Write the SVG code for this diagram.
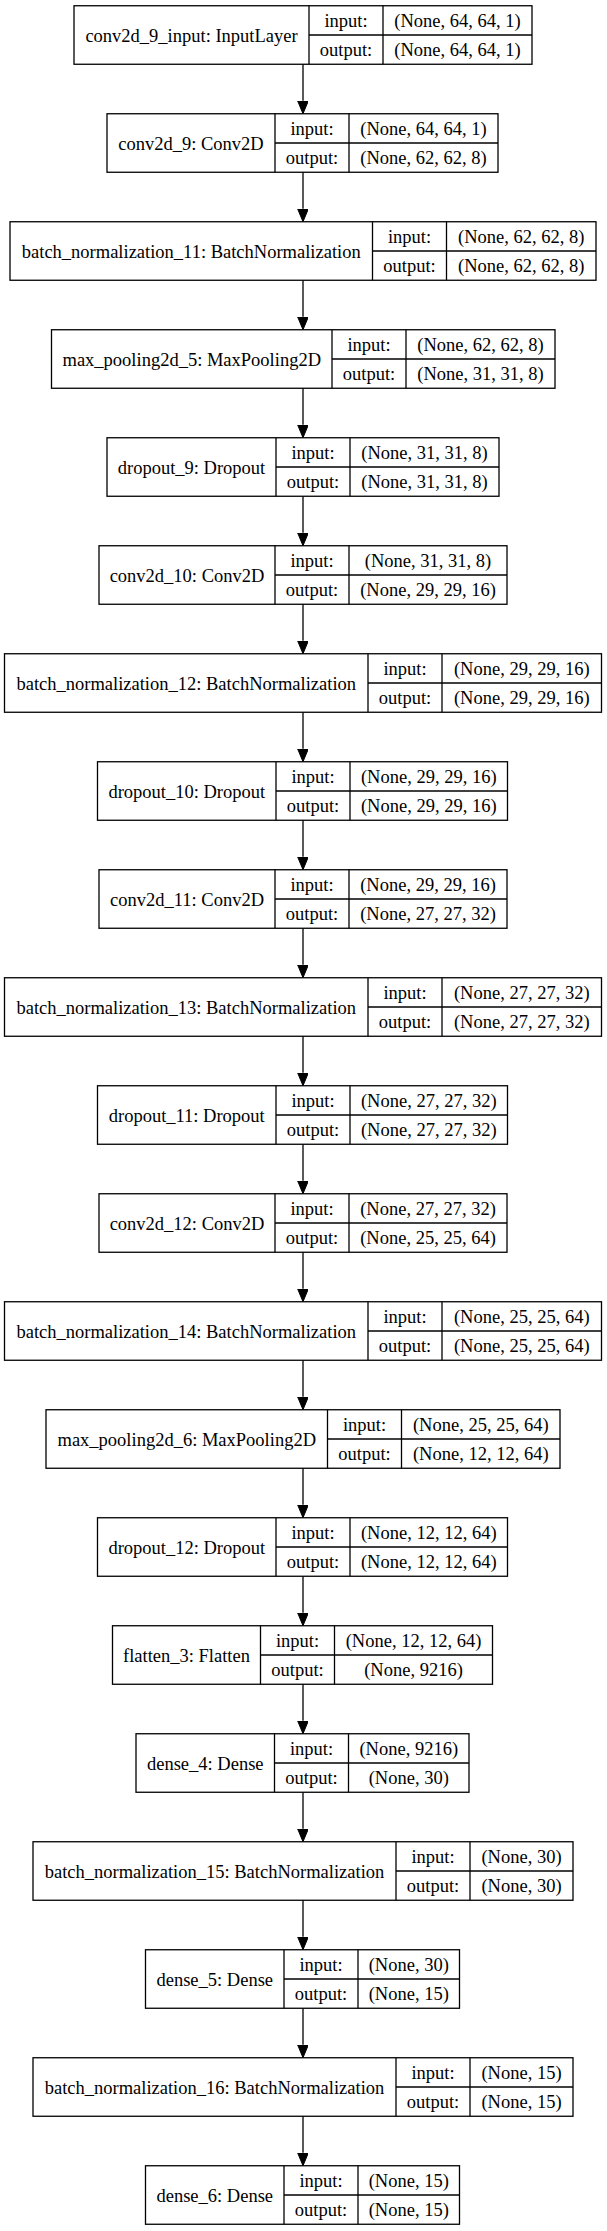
<svg xmlns="http://www.w3.org/2000/svg" width="607" height="2231" viewBox="0 0 607 2231">
<style>
rect.b{fill:#fff;stroke:#000;stroke-width:1.3}
line.d{stroke:#000;stroke-width:1.3}
text{font-family:"Liberation Serif","Times New Roman",serif;font-size:18.5px;fill:#000;text-anchor:middle}
.e{stroke:#000;stroke-width:1.3;fill:none}
</style>
<defs>
<marker id="ah" markerUnits="userSpaceOnUse" markerWidth="14" markerHeight="12" refX="0" refY="5.4" orient="auto">
<path d="M0,0 L13,5.4 L0,10.8 z" fill="#000" stroke="#000" stroke-width="1"/>
</marker>
</defs>
<rect width="607" height="2231" fill="#fff"/>
<g id="connectors">
<line class="e" x1="303" y1="64.25" x2="303" y2="100.75" marker-end="url(#ah)"/>
<line class="e" x1="303" y1="172.25" x2="303" y2="208.75" marker-end="url(#ah)"/>
<line class="e" x1="303" y1="280.25" x2="303" y2="316.75" marker-end="url(#ah)"/>
<line class="e" x1="303" y1="388.25" x2="303" y2="424.75" marker-end="url(#ah)"/>
<line class="e" x1="303" y1="496.25" x2="303" y2="532.75" marker-end="url(#ah)"/>
<line class="e" x1="303" y1="604.25" x2="303" y2="640.75" marker-end="url(#ah)"/>
<line class="e" x1="303" y1="712.25" x2="303" y2="748.75" marker-end="url(#ah)"/>
<line class="e" x1="303" y1="820.25" x2="303" y2="856.75" marker-end="url(#ah)"/>
<line class="e" x1="303" y1="928.25" x2="303" y2="964.75" marker-end="url(#ah)"/>
<line class="e" x1="303" y1="1036.25" x2="303" y2="1072.75" marker-end="url(#ah)"/>
<line class="e" x1="303" y1="1144.25" x2="303" y2="1180.75" marker-end="url(#ah)"/>
<line class="e" x1="303" y1="1252.25" x2="303" y2="1288.75" marker-end="url(#ah)"/>
<line class="e" x1="303" y1="1360.25" x2="303" y2="1396.75" marker-end="url(#ah)"/>
<line class="e" x1="303" y1="1468.25" x2="303" y2="1504.75" marker-end="url(#ah)"/>
<line class="e" x1="303" y1="1576.25" x2="303" y2="1612.75" marker-end="url(#ah)"/>
<line class="e" x1="303" y1="1684.25" x2="303" y2="1720.75" marker-end="url(#ah)"/>
<line class="e" x1="303" y1="1792.25" x2="303" y2="1828.75" marker-end="url(#ah)"/>
<line class="e" x1="303" y1="1900.25" x2="303" y2="1936.75" marker-end="url(#ah)"/>
<line class="e" x1="303" y1="2008.25" x2="303" y2="2044.75" marker-end="url(#ah)"/>
<line class="e" x1="303" y1="2116.25" x2="303" y2="2152.75" marker-end="url(#ah)"/>
</g>

<g id="conv2d_9_input" transform="translate(0,5.75)">
<rect class="b" x="74" y="0" width="458" height="58.5"/>
<line class="d" x1="309" y1="0" x2="309" y2="58.5"/><line class="d" x1="383" y1="0" x2="383" y2="58.5"/><line class="d" x1="309" y1="29.25" x2="532" y2="29.25"/>
<text x="191.5" y="36.05">conv2d_9_input: InputLayer</text>
<text x="346" y="21.4">input:</text><text x="346" y="50.7">output:</text>
<text x="457.5" y="21.4">(None, 64, 64, 1)</text><text x="457.5" y="50.7">(None, 64, 64, 1)</text>
</g>

<g id="conv2d_9" transform="translate(0,113.75)">
<rect class="b" x="107" y="0" width="391" height="58.5"/>
<line class="d" x1="275" y1="0" x2="275" y2="58.5"/><line class="d" x1="349" y1="0" x2="349" y2="58.5"/><line class="d" x1="275" y1="29.25" x2="498" y2="29.25"/>
<text x="191" y="36.05">conv2d_9: Conv2D</text>
<text x="312" y="21.4">input:</text><text x="312" y="50.7">output:</text>
<text x="423.5" y="21.4">(None, 64, 64, 1)</text><text x="423.5" y="50.7">(None, 62, 62, 8)</text>
</g>

<g id="batch_normalization_11" transform="translate(0,221.75)">
<rect class="b" x="10" y="0" width="586" height="58.5"/>
<line class="d" x1="372.5" y1="0" x2="372.5" y2="58.5"/><line class="d" x1="446.5" y1="0" x2="446.5" y2="58.5"/><line class="d" x1="372.5" y1="29.25" x2="596" y2="29.25"/>
<text x="191.25" y="36.05">batch_normalization_11: BatchNormalization</text>
<text x="409.5" y="21.4">input:</text><text x="409.5" y="50.7">output:</text>
<text x="521.25" y="21.4">(None, 62, 62, 8)</text><text x="521.25" y="50.7">(None, 62, 62, 8)</text>
</g>

<g id="max_pooling2d_5" transform="translate(0,329.75)">
<rect class="b" x="51.5" y="0" width="503.5" height="58.5"/>
<line class="d" x1="332" y1="0" x2="332" y2="58.5"/><line class="d" x1="406" y1="0" x2="406" y2="58.5"/><line class="d" x1="332" y1="29.25" x2="555" y2="29.25"/>
<text x="191.75" y="36.05">max_pooling2d_5: MaxPooling2D</text>
<text x="369" y="21.4">input:</text><text x="369" y="50.7">output:</text>
<text x="480.5" y="21.4">(None, 62, 62, 8)</text><text x="480.5" y="50.7">(None, 31, 31, 8)</text>
</g>

<g id="dropout_9" transform="translate(0,437.75)">
<rect class="b" x="107" y="0" width="392" height="58.5"/>
<line class="d" x1="276" y1="0" x2="276" y2="58.5"/><line class="d" x1="350" y1="0" x2="350" y2="58.5"/><line class="d" x1="276" y1="29.25" x2="499" y2="29.25"/>
<text x="191.5" y="36.05">dropout_9: Dropout</text>
<text x="313" y="21.4">input:</text><text x="313" y="50.7">output:</text>
<text x="424.5" y="21.4">(None, 31, 31, 8)</text><text x="424.5" y="50.7">(None, 31, 31, 8)</text>
</g>

<g id="conv2d_10" transform="translate(0,545.75)">
<rect class="b" x="99" y="0" width="408" height="58.5"/>
<line class="d" x1="275" y1="0" x2="275" y2="58.5"/><line class="d" x1="349" y1="0" x2="349" y2="58.5"/><line class="d" x1="275" y1="29.25" x2="507" y2="29.25"/>
<text x="187" y="36.05">conv2d_10: Conv2D</text>
<text x="312" y="21.4">input:</text><text x="312" y="50.7">output:</text>
<text x="428" y="21.4">(None, 31, 31, 8)</text><text x="428" y="50.7">(None, 29, 29, 16)</text>
</g>

<g id="batch_normalization_12" transform="translate(0,653.75)">
<rect class="b" x="4.5" y="0" width="597" height="58.5"/>
<line class="d" x1="368" y1="0" x2="368" y2="58.5"/><line class="d" x1="442" y1="0" x2="442" y2="58.5"/><line class="d" x1="368" y1="29.25" x2="601.5" y2="29.25"/>
<text x="186.25" y="36.05">batch_normalization_12: BatchNormalization</text>
<text x="405" y="21.4">input:</text><text x="405" y="50.7">output:</text>
<text x="521.75" y="21.4">(None, 29, 29, 16)</text><text x="521.75" y="50.7">(None, 29, 29, 16)</text>
</g>

<g id="dropout_10" transform="translate(0,761.75)">
<rect class="b" x="97.5" y="0" width="410" height="58.5"/>
<line class="d" x1="276" y1="0" x2="276" y2="58.5"/><line class="d" x1="350" y1="0" x2="350" y2="58.5"/><line class="d" x1="276" y1="29.25" x2="507.5" y2="29.25"/>
<text x="186.75" y="36.05">dropout_10: Dropout</text>
<text x="313" y="21.4">input:</text><text x="313" y="50.7">output:</text>
<text x="428.75" y="21.4">(None, 29, 29, 16)</text><text x="428.75" y="50.7">(None, 29, 29, 16)</text>
</g>

<g id="conv2d_11" transform="translate(0,869.75)">
<rect class="b" x="99" y="0" width="408" height="58.5"/>
<line class="d" x1="275" y1="0" x2="275" y2="58.5"/><line class="d" x1="349" y1="0" x2="349" y2="58.5"/><line class="d" x1="275" y1="29.25" x2="507" y2="29.25"/>
<text x="187" y="36.05">conv2d_11: Conv2D</text>
<text x="312" y="21.4">input:</text><text x="312" y="50.7">output:</text>
<text x="428" y="21.4">(None, 29, 29, 16)</text><text x="428" y="50.7">(None, 27, 27, 32)</text>
</g>

<g id="batch_normalization_13" transform="translate(0,977.75)">
<rect class="b" x="4.5" y="0" width="597" height="58.5"/>
<line class="d" x1="368" y1="0" x2="368" y2="58.5"/><line class="d" x1="442" y1="0" x2="442" y2="58.5"/><line class="d" x1="368" y1="29.25" x2="601.5" y2="29.25"/>
<text x="186.25" y="36.05">batch_normalization_13: BatchNormalization</text>
<text x="405" y="21.4">input:</text><text x="405" y="50.7">output:</text>
<text x="521.75" y="21.4">(None, 27, 27, 32)</text><text x="521.75" y="50.7">(None, 27, 27, 32)</text>
</g>

<g id="dropout_11" transform="translate(0,1085.75)">
<rect class="b" x="97.5" y="0" width="410" height="58.5"/>
<line class="d" x1="276" y1="0" x2="276" y2="58.5"/><line class="d" x1="350" y1="0" x2="350" y2="58.5"/><line class="d" x1="276" y1="29.25" x2="507.5" y2="29.25"/>
<text x="186.75" y="36.05">dropout_11: Dropout</text>
<text x="313" y="21.4">input:</text><text x="313" y="50.7">output:</text>
<text x="428.75" y="21.4">(None, 27, 27, 32)</text><text x="428.75" y="50.7">(None, 27, 27, 32)</text>
</g>

<g id="conv2d_12" transform="translate(0,1193.75)">
<rect class="b" x="99" y="0" width="408" height="58.5"/>
<line class="d" x1="275" y1="0" x2="275" y2="58.5"/><line class="d" x1="349" y1="0" x2="349" y2="58.5"/><line class="d" x1="275" y1="29.25" x2="507" y2="29.25"/>
<text x="187" y="36.05">conv2d_12: Conv2D</text>
<text x="312" y="21.4">input:</text><text x="312" y="50.7">output:</text>
<text x="428" y="21.4">(None, 27, 27, 32)</text><text x="428" y="50.7">(None, 25, 25, 64)</text>
</g>

<g id="batch_normalization_14" transform="translate(0,1301.75)">
<rect class="b" x="4.5" y="0" width="597" height="58.5"/>
<line class="d" x1="368" y1="0" x2="368" y2="58.5"/><line class="d" x1="442" y1="0" x2="442" y2="58.5"/><line class="d" x1="368" y1="29.25" x2="601.5" y2="29.25"/>
<text x="186.25" y="36.05">batch_normalization_14: BatchNormalization</text>
<text x="405" y="21.4">input:</text><text x="405" y="50.7">output:</text>
<text x="521.75" y="21.4">(None, 25, 25, 64)</text><text x="521.75" y="50.7">(None, 25, 25, 64)</text>
</g>

<g id="max_pooling2d_6" transform="translate(0,1409.75)">
<rect class="b" x="46" y="0" width="514" height="58.5"/>
<line class="d" x1="327.5" y1="0" x2="327.5" y2="58.5"/><line class="d" x1="401.5" y1="0" x2="401.5" y2="58.5"/><line class="d" x1="327.5" y1="29.25" x2="560" y2="29.25"/>
<text x="186.75" y="36.05">max_pooling2d_6: MaxPooling2D</text>
<text x="364.5" y="21.4">input:</text><text x="364.5" y="50.7">output:</text>
<text x="480.75" y="21.4">(None, 25, 25, 64)</text><text x="480.75" y="50.7">(None, 12, 12, 64)</text>
</g>

<g id="dropout_12" transform="translate(0,1517.75)">
<rect class="b" x="97.5" y="0" width="410" height="58.5"/>
<line class="d" x1="276" y1="0" x2="276" y2="58.5"/><line class="d" x1="350" y1="0" x2="350" y2="58.5"/><line class="d" x1="276" y1="29.25" x2="507.5" y2="29.25"/>
<text x="186.75" y="36.05">dropout_12: Dropout</text>
<text x="313" y="21.4">input:</text><text x="313" y="50.7">output:</text>
<text x="428.75" y="21.4">(None, 12, 12, 64)</text><text x="428.75" y="50.7">(None, 12, 12, 64)</text>
</g>

<g id="flatten_3" transform="translate(0,1625.75)">
<rect class="b" x="112.5" y="0" width="380" height="58.5"/>
<line class="d" x1="260.5" y1="0" x2="260.5" y2="58.5"/><line class="d" x1="334.5" y1="0" x2="334.5" y2="58.5"/><line class="d" x1="260.5" y1="29.25" x2="492.5" y2="29.25"/>
<text x="186.5" y="36.05">flatten_3: Flatten</text>
<text x="297.5" y="21.4">input:</text><text x="297.5" y="50.7">output:</text>
<text x="413.5" y="21.4">(None, 12, 12, 64)</text><text x="413.5" y="50.7">(None, 9216)</text>
</g>

<g id="dense_4" transform="translate(0,1733.75)">
<rect class="b" x="136" y="0" width="333" height="58.5"/>
<line class="d" x1="274.5" y1="0" x2="274.5" y2="58.5"/><line class="d" x1="348.5" y1="0" x2="348.5" y2="58.5"/><line class="d" x1="274.5" y1="29.25" x2="469" y2="29.25"/>
<text x="205.25" y="36.05">dense_4: Dense</text>
<text x="311.5" y="21.4">input:</text><text x="311.5" y="50.7">output:</text>
<text x="408.75" y="21.4">(None, 9216)</text><text x="408.75" y="50.7">(None, 30)</text>
</g>

<g id="batch_normalization_15" transform="translate(0,1841.75)">
<rect class="b" x="33" y="0" width="540" height="58.5"/>
<line class="d" x1="396" y1="0" x2="396" y2="58.5"/><line class="d" x1="470" y1="0" x2="470" y2="58.5"/><line class="d" x1="396" y1="29.25" x2="573" y2="29.25"/>
<text x="214.5" y="36.05">batch_normalization_15: BatchNormalization</text>
<text x="433" y="21.4">input:</text><text x="433" y="50.7">output:</text>
<text x="521.5" y="21.4">(None, 30)</text><text x="521.5" y="50.7">(None, 30)</text>
</g>

<g id="dense_5" transform="translate(0,1949.75)">
<rect class="b" x="145.5" y="0" width="314" height="58.5"/>
<line class="d" x1="284" y1="0" x2="284" y2="58.5"/><line class="d" x1="358" y1="0" x2="358" y2="58.5"/><line class="d" x1="284" y1="29.25" x2="459.5" y2="29.25"/>
<text x="214.75" y="36.05">dense_5: Dense</text>
<text x="321" y="21.4">input:</text><text x="321" y="50.7">output:</text>
<text x="408.75" y="21.4">(None, 30)</text><text x="408.75" y="50.7">(None, 15)</text>
</g>

<g id="batch_normalization_16" transform="translate(0,2057.75)">
<rect class="b" x="33" y="0" width="540" height="58.5"/>
<line class="d" x1="396" y1="0" x2="396" y2="58.5"/><line class="d" x1="470" y1="0" x2="470" y2="58.5"/><line class="d" x1="396" y1="29.25" x2="573" y2="29.25"/>
<text x="214.5" y="36.05">batch_normalization_16: BatchNormalization</text>
<text x="433" y="21.4">input:</text><text x="433" y="50.7">output:</text>
<text x="521.5" y="21.4">(None, 15)</text><text x="521.5" y="50.7">(None, 15)</text>
</g>

<g id="dense_6" transform="translate(0,2165.75)">
<rect class="b" x="145.5" y="0" width="314" height="58.5"/>
<line class="d" x1="284" y1="0" x2="284" y2="58.5"/><line class="d" x1="358" y1="0" x2="358" y2="58.5"/><line class="d" x1="284" y1="29.25" x2="459.5" y2="29.25"/>
<text x="214.75" y="36.05">dense_6: Dense</text>
<text x="321" y="21.4">input:</text><text x="321" y="50.7">output:</text>
<text x="408.75" y="21.4">(None, 15)</text><text x="408.75" y="50.7">(None, 15)</text>
</g>
</svg>
